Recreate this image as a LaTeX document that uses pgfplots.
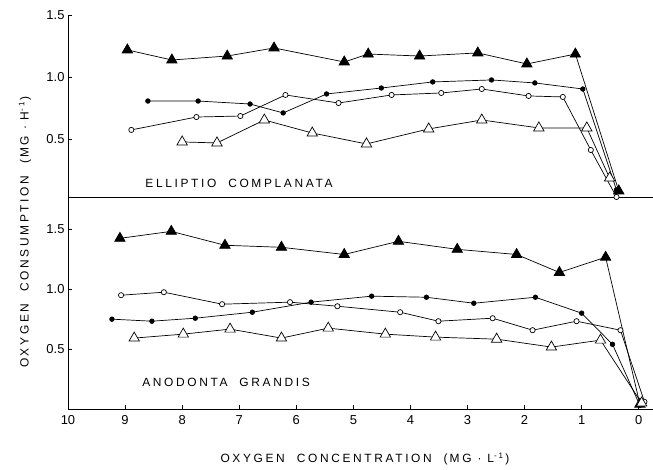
\documentclass[border=0pt]{standalone}
\usepackage{fontspec}
\setmainfont{Liberation Sans}
\newfontfamily\lbl[LetterSpace=22]{Liberation Sans}
\usepackage{pgfplots}
\pgfplotsset{compat=1.18}

\pgfplotsset{
  musselaxis/.style={
    scale only axis, width=585bp,
    axis lines=left, axis line style={-, line width=0.9bp},
    x dir=reverse, xmin=-0.25, xmax=10,
    tick align=inside, major tick length=4bp,
    tick style={black, line width=0.7bp},
    ticklabel style={font=\fontsize{13}{15}\selectfont},
    ytick={0.5,1,1.5}, yticklabels={0.5,1.0,1.5},
    every axis plot/.append style={black, line width=0.7bp},
    clip=false,
  },
  ftri/.style={mark=triangle*, mark size=6bp, mark options={fill=black, solid}},
  otri/.style={mark=triangle*, mark size=6bp, mark options={fill=white, solid}},
  fcir/.style={mark=*, mark size=2.3bp, mark options={fill=black, solid}},
  ocir/.style={mark=*, mark size=2.6bp, mark options={fill=white, solid}},
}

\begin{document}
\begin{tikzpicture}[x=1bp,y=1bp]
\path[use as bounding box] (0,0) rectangle (653,470);

% Elliptio complanata (upper panel)
\begin{axis}[musselaxis, at={(68bp,273bp)}, anchor=south west,
  height=182bp, ymin=0.032, ymax=1.5, xtick=\empty]
\addplot[ftri] coordinates {
(8.96,1.218) (8.18,1.137) (7.21,1.169) (6.39,1.234) (5.16,1.121) (4.74,1.185)
(3.84,1.169) (2.82,1.194) (1.96,1.105) (1.11,1.185) (0.35,0.081)};
\addplot[fcir] coordinates {
(8.60,0.806) (7.72,0.806) (6.81,0.782) (6.23,0.710) (5.47,0.863) (4.51,0.911)
(3.61,0.960) (2.58,0.976) (1.82,0.952) (0.98,0.903) (0.39,0.089)};
\addplot[ocir] coordinates {
(8.89,0.573) (7.75,0.677) (6.98,0.685) (6.19,0.855) (5.26,0.790) (4.33,0.855)
(3.46,0.871) (2.75,0.903) (1.93,0.847) (1.33,0.839) (0.84,0.411) (0.39,0.032)};
\addplot[otri] coordinates {
(8.00,0.476) (7.39,0.468) (6.56,0.653) (5.72,0.548) (4.77,0.460) (3.68,0.581)
(2.75,0.653) (1.75,0.589) (0.91,0.589) (0.51,0.185)};
\end{axis}

% Anodonta grandis (lower panel)
\begin{axis}[musselaxis, at={(68bp,61bp)}, anchor=south west,
  height=212bp, ymin=0, ymax=1.77,
  xtick={0,1,...,10}, xticklabels={0,1,2,3,4,5,6,7,8,9,10},
  xticklabel style={yshift=-3bp}]
\addplot[ftri] coordinates {
(9.09,1.425) (8.19,1.483) (7.25,1.367) (6.26,1.350) (5.16,1.290) (4.21,1.400)
(3.18,1.333) (2.14,1.290) (1.39,1.140) (0.58,1.267) (-0.02,0.040)};
\addplot[fcir] coordinates {
(9.23,0.750) (8.53,0.733) (7.77,0.758) (6.77,0.808) (5.74,0.892) (4.68,0.942)
(3.72,0.933) (2.89,0.883) (1.81,0.933) (1.00,0.800) (0.46,0.540) (-0.02,0.030)};
\addplot[ocir] coordinates {
(9.07,0.950) (8.32,0.975) (7.30,0.875) (6.11,0.892) (5.28,0.858) (4.18,0.808)
(3.51,0.733) (2.56,0.758) (1.86,0.658) (1.09,0.733) (0.32,0.658) (-0.10,0.060)};
\addplot[otri] coordinates {
(8.84,0.592) (7.98,0.625) (7.16,0.667) (6.26,0.592) (5.44,0.675) (4.44,0.625)
(3.56,0.600) (2.49,0.583) (1.53,0.517) (0.67,0.575) (-0.05,0.050)};
\end{axis}

\node[font=\lbl\fontsize{12}{14}\selectfont] at (239,287) {ELLIPTIO\quad COMPLANATA};
\node[font=\lbl\fontsize{12}{14}\selectfont] at (226,88) {ANODONTA\quad GRANDIS};
\node[font=\lbl\fontsize{12}{14}\selectfont] at (365,11)
  {OXYGEN\quad CONCENTRATION\quad (\,MG\ ·\ L\textsuperscript{-1}\,)};
\node[font=\lbl\fontsize{12}{14}\selectfont, rotate=90] at (25,238)
  {OXYGEN\quad CONSUMPTION\quad (\,MG\ ·\ H\textsuperscript{-1}\,)};
\end{tikzpicture}
\end{document}
